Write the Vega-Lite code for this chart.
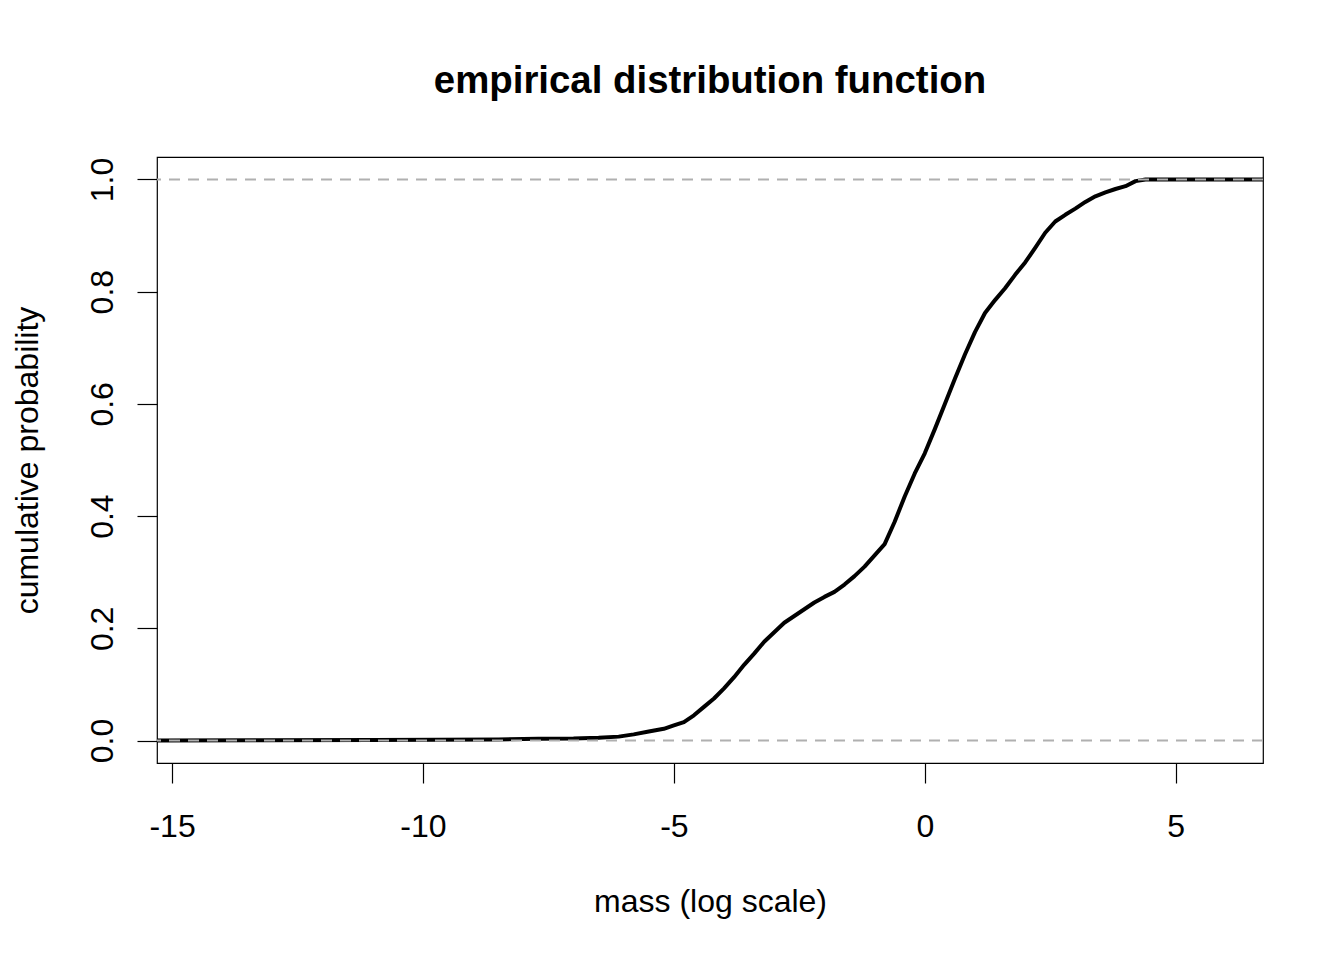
{
  "$schema": "https://vega.github.io/schema/vega-lite/v6.json",
  "width": 1106,
  "height": 606,
  "autosize": {"type": "none"},
  "padding": {"left": 157, "top": 157, "right": 81, "bottom": 197},
  "background": "white",
  "title": {
    "text": "empirical distribution function",
    "font": "Liberation Sans",
    "fontSize": 38.4,
    "fontWeight": "bold",
    "color": "black",
    "anchor": "middle",
    "frame": "group",
    "baseline": "alphabetic",
    "offset": 26
  },
  "config": {
    "view": {"stroke": "black", "strokeWidth": 1.2},
    "axis": {
      "grid": false,
      "domain": false,
      "tickColor": "black",
      "tickWidth": 1.2,
      "tickSize": 20,
      "labelFont": "Liberation Sans",
      "labelFontSize": 32,
      "labelColor": "black",
      "titleFont": "Liberation Sans",
      "titleFontSize": 32,
      "titleFontWeight": "normal",
      "titleColor": "black",
      "labelFlush": false,
      "labelOverlap": false,
      "labelBound": false
    }
  },
  "layer": [
    {
      "data": {
        "values": [
          {"m": -15.3, "p": 0},
          {"m": -13.2, "p": 0.0005},
          {"m": -11.0, "p": 0.001},
          {"m": -9.7, "p": 0.0015},
          {"m": -8.5, "p": 0.002},
          {"m": -7.7, "p": 0.003},
          {"m": -7.0, "p": 0.0035},
          {"m": -6.5, "p": 0.005},
          {"m": -6.1, "p": 0.007},
          {"m": -5.8, "p": 0.011},
          {"m": -5.5, "p": 0.016},
          {"m": -5.2, "p": 0.021},
          {"m": -5.0, "p": 0.027},
          {"m": -4.8, "p": 0.033},
          {"m": -4.6, "p": 0.045},
          {"m": -4.4, "p": 0.06},
          {"m": -4.2, "p": 0.075},
          {"m": -4.0, "p": 0.093},
          {"m": -3.8, "p": 0.113},
          {"m": -3.6, "p": 0.135},
          {"m": -3.4, "p": 0.155},
          {"m": -3.2, "p": 0.176},
          {"m": -3.0, "p": 0.193},
          {"m": -2.8, "p": 0.21},
          {"m": -2.6, "p": 0.222},
          {"m": -2.4, "p": 0.234},
          {"m": -2.2, "p": 0.246},
          {"m": -2.0, "p": 0.256},
          {"m": -1.8, "p": 0.265},
          {"m": -1.6, "p": 0.278},
          {"m": -1.4, "p": 0.293},
          {"m": -1.2, "p": 0.31},
          {"m": -1.0, "p": 0.33},
          {"m": -0.8, "p": 0.35},
          {"m": -0.6, "p": 0.39},
          {"m": -0.4, "p": 0.435},
          {"m": -0.2, "p": 0.476},
          {"m": 0.0, "p": 0.512},
          {"m": 0.2, "p": 0.555},
          {"m": 0.4, "p": 0.6},
          {"m": 0.6, "p": 0.645},
          {"m": 0.8, "p": 0.688},
          {"m": 1.0, "p": 0.728},
          {"m": 1.2, "p": 0.762},
          {"m": 1.4, "p": 0.785},
          {"m": 1.6, "p": 0.806},
          {"m": 1.8, "p": 0.83},
          {"m": 2.0, "p": 0.852},
          {"m": 2.2, "p": 0.878},
          {"m": 2.4, "p": 0.905},
          {"m": 2.6, "p": 0.925},
          {"m": 2.8, "p": 0.937},
          {"m": 3.0, "p": 0.948},
          {"m": 3.2, "p": 0.96},
          {"m": 3.4, "p": 0.97},
          {"m": 3.6, "p": 0.977},
          {"m": 3.8, "p": 0.983},
          {"m": 4.0, "p": 0.988},
          {"m": 4.2, "p": 0.997},
          {"m": 4.4, "p": 1.0},
          {"m": 6.74, "p": 1.0}
        ]
      },
      "mark": {"type": "line", "color": "black", "strokeWidth": 4, "clip": true, "strokeJoin": "round", "strokeCap": "round"},
      "encoding": {
        "x": {
          "field": "m",
          "type": "quantitative",
          "scale": {"domain": [-15.3, 6.74], "nice": false, "zero": false},
          "axis": {
            "values": [-15, -10, -5, 0, 5],
            "labelExpr": "'' + datum.value",
            "labelPadding": 53,
            "labelBaseline": "alphabetic",
            "title": "mass (log scale)",
            "titleX": 553,
            "titleY": 148,
            "titleAlign": "center",
            "titleBaseline": "alphabetic"
          }
        },
        "y": {
          "field": "p",
          "type": "quantitative",
          "scale": {"domain": [-0.04, 1.04], "nice": false, "zero": false},
          "axis": {
            "values": [0, 0.2, 0.4, 0.6, 0.8, 1.0],
            "format": ".1f",
            "labelAngle": 270,
            "labelAlign": "center",
            "labelBaseline": "alphabetic",
            "labelPadding": 25,
            "title": "cumulative probability",
            "titleAngle": 270,
            "titleX": -120,
            "titleY": 303,
            "titleAlign": "center",
            "titleBaseline": "alphabetic"
          }
        }
      }
    },
    {
      "data": {"values": [{"p": 0}, {"p": 1}]},
      "mark": {"type": "rule", "color": "#b0b0b0", "strokeWidth": 2, "strokeDash": [11, 8]},
      "encoding": {
        "y": {"field": "p", "type": "quantitative"}
      }
    }
  ]
}
